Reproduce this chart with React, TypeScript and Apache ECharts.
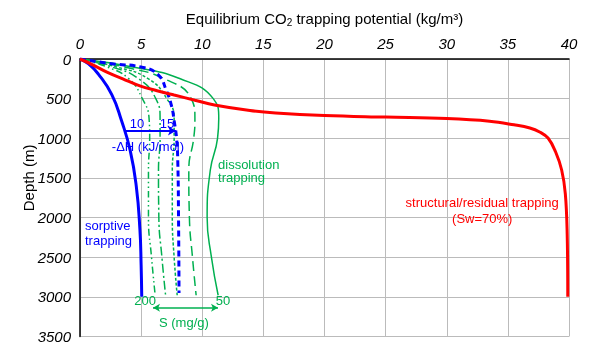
import React, { useEffect, useRef } from "react";
import * as echarts from "echarts";

// ---- data (x = trapping potential kg/m3, y = depth m) ----
const xTicks = { min: 0, max: 40, interval: 5 };
const yTicks = { min: 0, max: 3500, interval: 500 };

const redDepth = [0, 70, 165, 250, 340, 400, 455, 520, 580, 650, 680, 712, 733, 752, 785, 830, 870, 920, 1000, 1170, 1400, 1700, 2200, 3000];
const redX = [0, 1.0, 2.2, 3.5, 4.9, 6.3, 7.7, 9.4, 11.0, 13.9, 16.0, 20.0, 25.0, 30.0, 33.5, 35.5, 36.8, 37.6, 38.3, 38.9, 39.4, 39.7, 39.85, 39.9];

const sorpDepth = [0, 60, 190, 450, 780, 1150, 1600, 2150, 2600, 3000];
const sorp10 = [0, 0.7, 1.5, 2.6, 3.4, 4.1, 4.6, 4.9, 5.0, 5.05];

const sorp15Depth = [0, 60, 105, 200, 400, 600, 780, 1000, 1300, 2000, 2950];
const sorp15 = [0, 2.6, 5.1, 6.4, 7.07, 7.5, 7.7, 7.9, 8.0, 8.06, 8.1];

const greenDepth = [0, 100, 250, 500, 750, 1000, 1400, 2000, 2500, 2980];
const dissS200 = [0, 2.2, 4.0, 5.1, 5.65, 5.7, 5.6, 5.6, 5.85, 6.15];
const dissS150 = [0, 2.6, 4.8, 6.2, 6.55, 6.55, 6.42, 6.45, 6.7, 7.0];
const dissS100 = [0, 3.0, 5.6, 7.1, 7.7, 7.7, 7.55, 7.55, 7.7, 7.95];
const dissS75 = [0, 3.6, 6.9, 9.1, 9.4, 9.3, 8.9, 8.95, 9.2, 9.5];
const dissS50 = [0, 4.3, 8.2, 10.9, 11.35, 11.25, 10.66, 10.4, 10.75, 11.3];

const RED = "#ff0000";
const BLUE = "#0000ff";
const GREEN = "#00b050";
const FONT = "Liberation Sans, Arial, sans-serif";

const pairs = (xs: number[], ds: number[]) => xs.map((x, i) => [x, ds[i]]);

export default function App() {
  const ref = useRef<HTMLDivElement>(null);
  useEffect(() => {
    const chart = echarts.init(ref.current!, null, { renderer: "svg" });
    const line = (name: string, data: number[][], color: string, width: number, type: any, extra: any = {}) => ({
      name,
      type: "line",
      data,
      showSymbol: false,
      symbol: "none",
      smooth: 0.5,
      lineStyle: { color, width, type },
      z: 3,
      ...extra,
    });
    chart.setOption({
      animation: false,
      grid: { left: 80, top: 59, width: 489, height: 280, containLabel: false },
      xAxis: {
        type: "value",
        position: "top",
        ...xTicks,
        axisLine: { show: true, lineStyle: { color: "#000", width: 1.5 } },
        axisTick: { show: false },
        axisLabel: { fontSize: 15, fontStyle: "italic", color: "#000", fontFamily: FONT, margin: 8, formatter: (v: number) => String(v) },
        splitLine: { show: true, lineStyle: { color: "#bbbbbb", width: 1 } },
      },
      yAxis: {
        type: "value",
        inverse: true,
        ...yTicks,
        axisLine: { show: true, lineStyle: { color: "#000", width: 1.5 } },
        axisTick: { show: false },
        axisLabel: { fontSize: 15, fontStyle: "italic", color: "#000", fontFamily: FONT, margin: 9, formatter: (v: number) => String(v) },
        splitLine: { show: true, lineStyle: { color: "#bbbbbb", width: 1 } },
      },
      series: [
        line("S=200", pairs(dissS200, greenDepth), GREEN, 1.5, [7, 3, 1.5, 3, 1.5, 3]),
        line("S=150", pairs(dissS150, greenDepth), GREEN, 1.5, [9, 3, 2, 3]),
        line("S=100", pairs(dissS100, greenDepth), GREEN, 1.5, [3, 2]),
        line("S=75", pairs(dissS75, greenDepth), GREEN, 1.5, [10, 5]),
        line("S=50", pairs(dissS50, greenDepth), GREEN, 1.5, "solid", {
          markLine: {
            silent: true,
            symbol: ["arrow", "arrow"],
            symbolSize: [6, 7],
            label: { show: false },
            lineStyle: { color: GREEN, width: 1.5, type: "solid" },
            data: [[{ coord: [5.97, 3137] }, { coord: [11.29, 3137] }]],
          },
        }),
        line("dH=15", pairs(sorp15, sorp15Depth), BLUE, 3, [6, 4]),
        line("dH=10", pairs(sorp10, sorpDepth), BLUE, 3, "solid", {
          markLine: {
            silent: true,
            symbol: ["none", "arrow"],
            symbolSize: [7, 8],
            label: { show: false },
            lineStyle: { color: BLUE, width: 2, type: "solid" },
            data: [[{ coord: [3.6, 906] }, { coord: [7.85, 906] }]],
          },
        }),
        line("structural", pairs(redX, redDepth), RED, 3, "solid", { smooth: 0.4 }),
      ],
    });

    const P = (x: number, y: number) => chart.convertToPixel({ xAxisIndex: 0, yAxisIndex: 0 }, [x, y]) as number[];
    const txt = (x: number, y: number, text: string, color: string, align = "center", size = 13) => {
      const p = P(x, y);
      return {
        type: "text",
        x: p[0],
        y: p[1],
        z: 10,
        style: { text, fill: color, fontSize: size, fontFamily: FONT, align, verticalAlign: "middle" },
      };
    };
    const left = P(0, 0);
    const right = P(40, 0);
    chart.setOption({
      graphic: [
        {
          type: "text",
          x: (left[0] + right[0]) / 2,
          y: 18,
          style: {
            text: "Equilibrium CO{s|2} trapping potential (kg/m³)",
            fill: "#000",
            fontSize: 15,
            fontFamily: FONT,
            align: "center",
            verticalAlign: "middle",
            rich: { s: { fontSize: 10, fontFamily: FONT, fill: "#000", padding: [8, 0, 0, 0] } },
          },
        },
        {
          type: "text",
          x: 28,
          y: P(0, 1500)[1],
          rotation: Math.PI / 2,
          style: { text: "Depth (m)", fill: "#000", fontSize: 15, fontFamily: FONT, align: "center", verticalAlign: "middle" },
        },
        txt(4.66, 812, "10", BLUE),
        txt(7.12, 812, "15", BLUE),
        txt(5.56, 1100, "-ΔH (kJ/mol)", BLUE),
        txt(11.29, 1325, "dissolution", GREEN, "left"),
        txt(11.29, 1500, "trapping", GREEN, "left"),
        txt(0.41, 2100, "sorptive", BLUE, "left"),
        txt(0.41, 2287, "trapping", BLUE, "left"),
        txt(32.9, 1812, "structural/residual trapping", RED),
        txt(32.9, 2012, "(Sw=70%)", RED),
        txt(5.32, 3050, "200", GREEN),
        txt(11.7, 3050, "50", GREEN),
        txt(8.5, 3325, "S (mg/g)", GREEN),
      ],
    });
    return () => chart.dispose();
  }, []);
  return <div ref={ref} style={{ position: "fixed", left: 0, top: 0, width: 590, height: 344 }} />;
}
